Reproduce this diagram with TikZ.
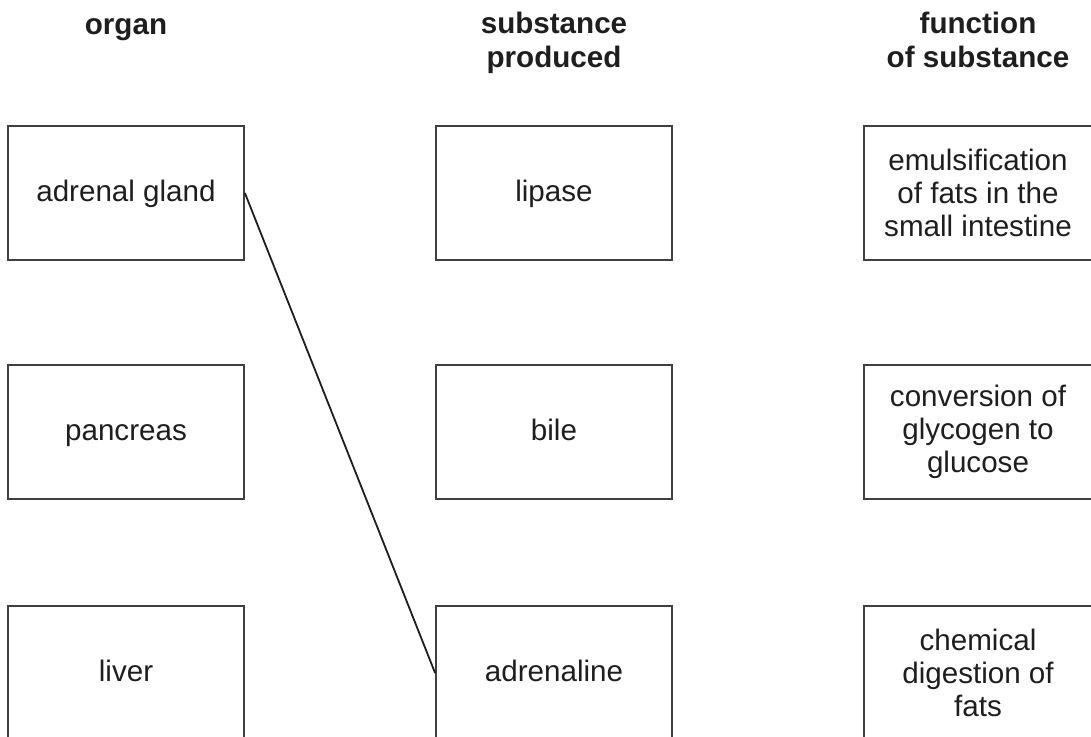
\documentclass[tikz,border=0pt]{standalone}
\usepackage{fontspec}
\setmainfont{Liberation Sans}
\definecolor{txt}{HTML}{1E1E1E}
\definecolor{edge}{HTML}{404040}
\begin{document}
\begin{tikzpicture}[x=0.5pt,y=-0.5pt,
  box/.style={draw=edge,line width=0.9pt,rectangle,inner sep=0pt,minimum height=67pt,
    align=center,text=txt,font=\fontsize{14.8pt}{16.6pt}\selectfont},
  lbox/.style={box,minimum width=118pt,text height=10.6pt,text depth=2.6pt},
  rbox/.style={box,minimum width=114pt},
  head/.style={align=center,text=txt,font=\fontsize{14.8pt}{16.8pt}\selectfont\bfseries,anchor=base,inner sep=0pt}]
\useasboundingbox (0,0) rectangle (1091,736);
\clip (0,0) rectangle (1091,736);
\node[head] (h1) at (126,34) {organ};
\node[head] (h2) at (554,67) {substance\\produced};
\node[head] (h3) at (978,67) {function\\of substance};
\node[lbox] (o1) at (126,193) {adrenal gland};
\node[lbox] (o2) at (126,432) {pancreas};
\node[lbox] (o3) at (126,673) {liver};
\node[lbox] (s1) at (554,193) {lipase};
\node[lbox] (s2) at (554,432) {bile};
\node[lbox] (s3) at (554,673) {adrenaline};
\node[rbox] (f1) at (978,193) {emulsification\\of fats in the\\small intestine};
\node[rbox] (f2) at (978,432) {conversion of\\glycogen to\\glucose};
\node[rbox] (f3) at (978,673) {chemical\\digestion of\\fats};
\draw[line width=0.9pt,color=txt] (o1.east) -- (s3.west);
\end{tikzpicture}
\end{document}
